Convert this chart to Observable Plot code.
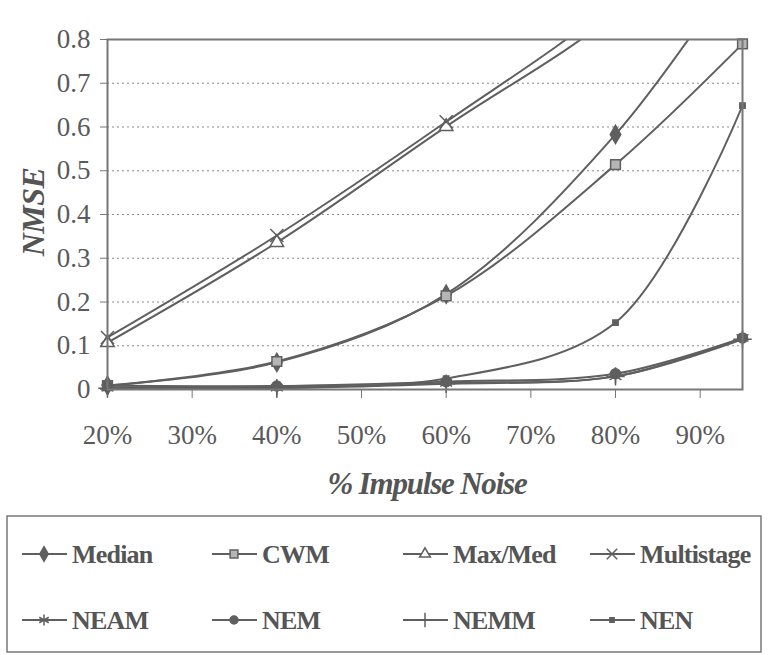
<!DOCTYPE html>
<html><head><meta charset="utf-8">
<script src="https://cdn.jsdelivr.net/npm/d3@7"></script>
<script src="https://cdn.jsdelivr.net/npm/@observablehq/plot@0.6"></script>
<style>body{margin:0;background:#fff} svg{display:block}</style>
</head><body><div id="chart"></div>
<script>
// ---- data ----
const noise = [0.20, 0.40, 0.60, 0.80, 0.95];
const median     = [0.009, 0.062, 0.218, 0.583, 0.98];
const cwm        = [0.009, 0.064, 0.214, 0.514, 0.79];
const maxmed     = [0.107, 0.336, 0.601, 0.86, 1.15];
const multistage = [0.119, 0.352, 0.612, 0.89, 1.2];
const neam       = [0.004, 0.004, 0.015, 0.030, 0.118];
const nem        = [0.009, 0.008, 0.018, 0.036, 0.118];
const nemm       = [0.003, 0.003, 0.013, 0.030, 0.115];
const nen        = [0.005, 0.008, 0.025, 0.153, 0.649];
const seriesNames = ["Median", "CWM", "Max/Med", "Multistage", "NEAM", "NEM", "NEMM", "NEN"];
const seriesValues = [median, cwm, maxmed, multistage, neam, nem, nemm, nen];
const xTicks = [0.2, 0.3, 0.4, 0.5, 0.6, 0.7, 0.8, 0.9];
const yTicks = [0, 0.1, 0.2, 0.3, 0.4, 0.5, 0.6, 0.7, 0.8];
const gridTicks = [0.1, 0.2, 0.3, 0.4, 0.5, 0.6, 0.7];
const xTitle = "% Impulse Noise";
const yTitle = "NMSE";

// ---- styles ----
const ink = "#5f5f5f";
const markerStyle = {
  "Median":     {symbol: "diamond",   fill: ink,    stroke: ink, r: 5.5},
  "CWM":        {symbol: "square",    fill: "#b5b5b5", stroke: ink, r: 5.5},
  "Max/Med":    {symbol: "triangle",  fill: "white", stroke: ink, r: 5},
  "Multistage": {symbol: "times",     fill: "none", stroke: ink, r: 6},
  "NEAM":       {symbol: "asterisk",  fill: "none", stroke: ink, r: 6.5},
  "NEM":        {symbol: "circle",    fill: ink,    stroke: ink, r: 5},
  "NEMM":       {symbol: "plus",      fill: "none", stroke: ink, r: 6},
  "NEN":        {symbol: "square",    fill: ink,    stroke: ink, r: 3}
};

const rows = [];
seriesNames.forEach((s, i) => {
  noise.forEach((x, j) => rows.push({series: s, x, y: seriesValues[i][j]}));
});

const W = 768, H = 655;
const mL = 107, mR = 26, mT = 39, mB = 266;

const dotMarks = seriesNames.map(s => {
  const m = markerStyle[s];
  return Plot.dot(rows.filter(d => d.series === s && d.y <= 0.8), {
    x: "x", y: "y", symbol: () => m.symbol, r: m.r,
    fill: m.fill, stroke: m.stroke, strokeWidth: 1.5
  });
});

const chart = Plot.plot({
  width: W, height: H,
  marginLeft: mL, marginRight: mR, marginTop: mT, marginBottom: mB,
  style: {fontFamily: "'Liberation Serif', 'Times New Roman', serif", fontSize: "27px", color: "#5a5a5a", background: "white"},
  x: {domain: [0.2, 0.95]},
  y: {domain: [0, 0.8]},
  symbol: {type: "identity"},
  marks: [
    Plot.gridY(gridTicks, {stroke: "#8a8a8a", strokeOpacity: 1, strokeDasharray: "2,3", strokeWidth: 1}),
    Plot.axisX({ticks: xTicks, tickFormat: d3.format(".0%"), tickSize: 9, tickPadding: 26, label: null, stroke: "#777", letterSpacing: "-1px"}),
    Plot.axisY({ticks: yTicks, tickFormat: d => d === 0 ? "0" : d.toFixed(1), tickSize: 7, tickPadding: 10, label: null, stroke: "#777", letterSpacing: "-1px"}),
    Plot.line(rows, {x: "x", y: "y", z: "series", curve: "catmull-rom", stroke: ink, strokeWidth: 2, clip: true}),
    ...dotMarks,
    Plot.frame({stroke: "#777", strokeWidth: 2})
  ]
});

document.getElementById("chart").appendChild(chart);

// ---- titles & legend (added to the same svg) ----
const svg = d3.select(chart.tagName.toLowerCase() === "svg" ? chart : chart.querySelector("svg"));
const serif = "'Liberation Serif', 'Times New Roman', serif";

svg.append("text")
  .attr("x", 427).attr("y", 494)
  .attr("text-anchor", "middle")
  .attr("font-family", serif).attr("font-size", 31)
  .attr("font-weight", "bold").attr("font-style", "italic")
  .attr("letter-spacing", "-1.2px")
  .attr("fill", "#555").text(xTitle);

svg.append("text")
  .attr("transform", `translate(44,212) rotate(-90)`)
  .attr("text-anchor", "middle")
  .attr("font-family", serif).attr("font-size", 32)
  .attr("font-weight", "bold").attr("font-style", "italic")
  .attr("letter-spacing", "-0.5px")
  .attr("fill", "#555").text(yTitle);

const lg = svg.append("g");
lg.append("rect").attr("x", 7).attr("y", 516).attr("width", 754).attr("height", 136)
  .attr("fill", "none").attr("stroke", "#777").attr("stroke-width", 1.5);

const colX = [22, 212, 403, 590];
const rowY = [554, 620];
const symMap = {
  diamond: d3.symbolDiamond, square: d3.symbolSquare, triangle: d3.symbolTriangle,
  times: d3.symbolTimes, asterisk: d3.symbolAsterisk, circle: d3.symbolCircle, plus: d3.symbolPlus
};
seriesNames.forEach((s, i) => {
  const cx = colX[i % 4], cy = rowY[Math.floor(i / 4)];
  const m = markerStyle[s];
  const g = lg.append("g");
  g.append("line").attr("x1", cx).attr("x2", cx + 45).attr("y1", cy).attr("y2", cy)
    .attr("stroke", ink).attr("stroke-width", 2);
  const rr = m.r * 0.8;
  g.append("path").attr("transform", `translate(${cx + 22},${cy})`)
    .attr("d", d3.symbol(symMap[m.symbol], Math.PI * rr * rr)())
    .attr("fill", m.fill).attr("stroke", m.stroke).attr("stroke-width", 1.5);
  g.append("text").attr("x", cx + 50).attr("y", cy + 9)
    .attr("text-anchor", "start")
    .attr("font-family", serif).attr("font-size", 26).attr("font-weight", "bold")
    .attr("letter-spacing", "-0.8px")
    .attr("fill", "#555").text(s);
});
</script>
</body></html>
